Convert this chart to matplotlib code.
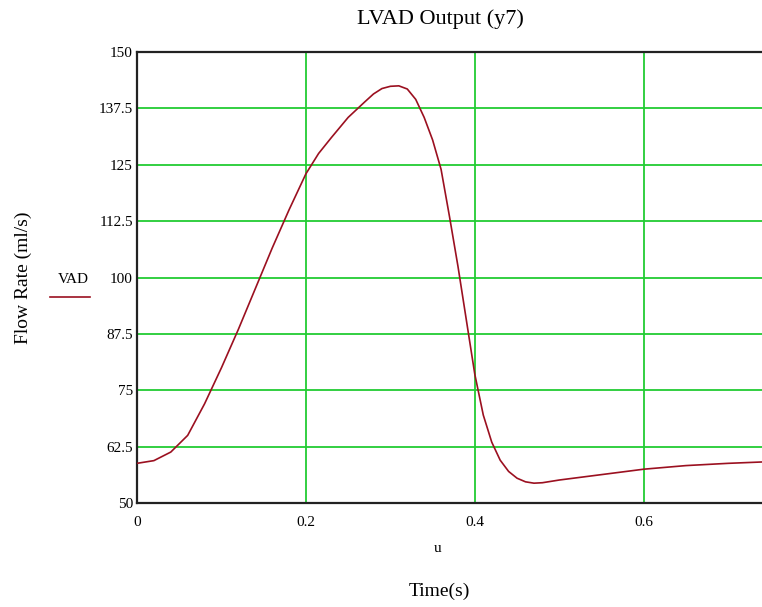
import numpy as np
import matplotlib.pyplot as plt

# LVAD output flow
t = [0.0, 0.02, 0.04, 0.06, 0.08, 0.10, 0.12, 0.14, 0.16, 0.18, 0.20, 0.215,
     0.23, 0.25, 0.27, 0.28, 0.29, 0.30, 0.31, 0.32, 0.33, 0.34, 0.35, 0.36, 0.37,
     0.38, 0.39, 0.40, 0.41, 0.42, 0.43, 0.44, 0.45, 0.46, 0.47, 0.48, 0.50,
     0.55, 0.60, 0.65, 0.70, 0.74]
flow = [58.8, 59.4, 61.3, 65.0, 72.0, 80.0, 88.5, 97.5, 106.5, 115.0, 123.0, 127.5,
        131.0, 135.5, 139.0, 140.7, 141.9, 142.4, 142.5, 141.8, 139.5, 135.5, 130.5, 124.0, 113.5,
        102.5, 90.5, 78.5, 69.5, 63.5, 59.5, 57.0, 55.5, 54.7, 54.4, 54.5, 55.1,
        56.3, 57.5, 58.3, 58.8, 59.1]

xticks = [0, 0.2, 0.4, 0.6]
xticklabels = ["0", "0.2", "0.4", "0.6"]
yticks = [50, 62.5, 75, 87.5, 100, 112.5, 125, 137.5, 150]
yticklabels = ["50", "62.5", "75", "87.5", "100", "112.5", "125", "137.5", "150"]

plt.rcParams['font.family'] = ['Liberation Serif', 'DejaVu Serif']

fig = plt.figure(figsize=(7.62, 6.07), dpi=100)
ax = fig.add_axes([0.1798, 0.1713, 0.8202, 0.743])

ax.plot(t, flow, color="#9b1020", lw=1.2, zorder=3)

ax.set_xlim(0, 0.74)
ax.set_ylim(50, 150)
ax.set_xticks(xticks)
ax.set_xticklabels(xticklabels)
ax.set_yticks(yticks)
ax.set_yticklabels(yticklabels)
ax.tick_params(length=0, labelsize=11)
ax.tick_params(axis="x", pad=9)
ax.tick_params(axis="y", pad=3)
ax.grid(True, color="#22cc33", lw=1.3)
ax.set_axisbelow(True)

ax.spines['right'].set_visible(False)
for s in ['left', 'bottom', 'top']:
    ax.spines[s].set_linewidth(1.6)
    ax.spines[s].set_color("#222222")

fig.text(0.578, 0.968, "LVAD Output (y7)", ha="center", va="center", fontsize=16)
fig.text(0.030, 0.543, "Flow Rate (ml/s)", ha="center", va="center",
         rotation=90, fontsize=14)
fig.text(0.096, 0.540, "VAD", ha="center", va="center", fontsize=11)
fig.add_artist(plt.Line2D([0.066, 0.118], [0.511, 0.511], color="#9b1020", lw=1.2))
fig.text(0.574, 0.097, "u", ha="center", va="center", fontsize=11)
fig.text(0.577, 0.025, "Time(s)", ha="center", va="center", fontsize=14)

plt.savefig("out.png", dpi=100)
